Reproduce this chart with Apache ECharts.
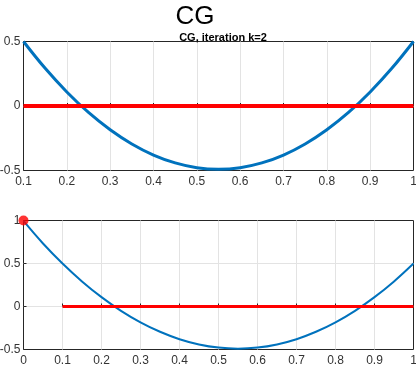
<!DOCTYPE html>
<html>
<head>
<meta charset="utf-8">
<script src="https://cdn.jsdelivr.net/npm/echarts@6/dist/echarts.min.js"></script>
<style>
  html, body { margin: 0; padding: 0; background: #fff; }
  #chart { width: 416px; height: 367px; }
</style>
</head>
<body>
<div id="chart"></div>
<script>
// sample points
const xValues = [0, 0.05, 0.1, 0.15, 0.2, 0.25, 0.3, 0.35, 0.4, 0.45, 0.5,
  0.55, 0.6, 0.65, 0.7, 0.75, 0.8, 0.85, 0.9, 0.95, 1];
const curveValues = [0.995, 0.733, 0.5, 0.292, 0.109, -0.05, -0.184, -0.294, -0.38, -0.441, -0.478,
  -0.49, -0.478, -0.441, -0.38, -0.294, -0.184, -0.05, 0.109, 0.292, 0.5];
const zeroLineX = [0.1, 1];
const zeroLineY = [0, 0];
const startPoint = [0, 1];
const topYTicks = [-0.5, 0, 0.5];
const bottomYTicks = [-0.5, 0, 0.5, 1];

const font = 'Liberation Sans, Arial, Helvetica, sans-serif';
const axisColor = '#262626';

const curvePairs = xValues.map((x, i) => [x, curveValues[i]]);
const topCurve = curvePairs.filter((p) => p[0] >= 0.1 - 1e-9);
const zeroPairs = zeroLineX.map((x, i) => [x, zeroLineY[i]]);

const fmt = (v) => String(+(+v).toFixed(1));

const splitLine = { show: true, showMinLine: false, showMaxLine: false, lineStyle: { color: '#e3e3e3', width: 1 } };

const makeX = (idx, min) => ({
  type: 'value',
  gridIndex: idx,
  min: min,
  max: 1,
  interval: 0.1,
  axisLine: { show: false },
  axisTick: { show: true, inside: true, length: 3, lineStyle: { color: axisColor } },
  axisLabel: { color: '#333', fontFamily: font, fontSize: 12, margin: 5, formatter: fmt },
  splitLine: splitLine,
});

const makeY = (idx, min, max) => ({
  type: 'value',
  gridIndex: idx,
  min: min,
  max: max,
  interval: 0.5,
  axisLine: { show: false },
  axisTick: { show: true, inside: true, length: 3, lineStyle: { color: axisColor } },
  axisLabel: { color: '#333', fontFamily: font, fontSize: 12, margin: 3, formatter: fmt },
  splitLine: splitLine,
});

const chart = echarts.init(document.getElementById('chart'), null, { renderer: 'canvas' });

chart.setOption({
  animation: false,
  backgroundColor: '#fff',
  title: [
    {
      text: 'CG',
      left: 190,
      top: -1,
      textAlign: 'center',
      textStyle: { fontFamily: font, fontSize: 26, fontWeight: 'normal', color: '#000' },
    },
    {
      text: 'CG, iteration k=2',
      left: 218,
      top: 27,
      textAlign: 'center',
      textStyle: { fontFamily: font, fontSize: 11, fontWeight: 'bold', color: '#000' },
    },
  ],
  grid: [
    { left: 23.5, right: 2.5, top: 41.5, height: 129, outerBoundsMode: 'none', containLabel: false, show: true, borderColor: axisColor, borderWidth: 1, backgroundColor: 'transparent' },
    { left: 23.5, right: 2.5, top: 220.5, height: 129, outerBoundsMode: 'none', containLabel: false, show: true, borderColor: axisColor, borderWidth: 1, backgroundColor: 'transparent' },
  ],
  xAxis: [makeX(0, 0.1), makeX(1, 0)],
  yAxis: [makeY(0, topYTicks[0], topYTicks[topYTicks.length - 1]), makeY(1, bottomYTicks[0], bottomYTicks[bottomYTicks.length - 1])],
  series: [
    {
      type: 'line',
      xAxisIndex: 0,
      yAxisIndex: 0,
      data: topCurve,
      smooth: 0.4,
      showSymbol: false,
      lineStyle: { color: '#0072BD', width: 3 },
      z: 3,
    },
    {
      type: 'line',
      xAxisIndex: 0,
      yAxisIndex: 0,
      data: zeroPairs,
      showSymbol: false,
      lineStyle: { color: '#ff0000', width: 4 },
      z: 4,
    },
    {
      type: 'line',
      xAxisIndex: 1,
      yAxisIndex: 1,
      data: curvePairs,
      smooth: 0.4,
      showSymbol: false,
      lineStyle: { color: '#0072BD', width: 2 },
      z: 3,
    },
    {
      type: 'line',
      xAxisIndex: 1,
      yAxisIndex: 1,
      data: zeroPairs,
      showSymbol: false,
      lineStyle: { color: '#ff0000', width: 3 },
      z: 4,
    },
    {
      type: 'scatter',
      xAxisIndex: 1,
      yAxisIndex: 1,
      data: [startPoint],
      symbolSize: 10,
      itemStyle: { color: '#ff0000' },
      clip: false,
      z: 5,
    },
  ],
});
</script>
</body>
</html>
